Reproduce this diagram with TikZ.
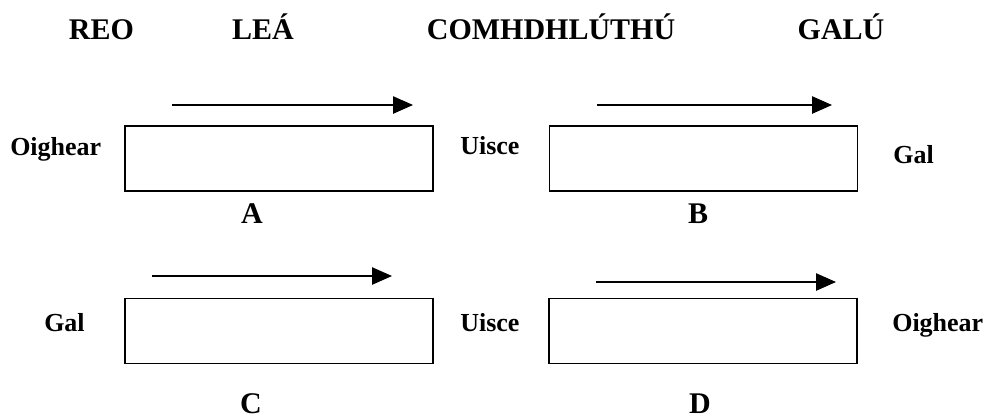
\documentclass[tikz,border=0pt]{standalone}
\usepackage{fontspec}
\setmainfont{Liberation Serif}
\usepackage{tikz}
\usetikzlibrary{arrows.meta}

\tikzset{
  tube/.style={draw, line width=1.2pt, minimum width=231pt, minimum height=48.75pt, inner sep=0pt},
  head/.style={anchor=base, inner sep=0pt, font=\bfseries\fontsize{22.5}{27}\selectfont},
  side/.style={anchor=base west, inner sep=0pt, font=\bfseries\fontsize{19.5}{23}\selectfont},
  flow/.style={line width=1.1pt, -{Triangle[length=15pt,width=13pt]}}
}

\begin{document}
\begin{tikzpicture}[x=0.75pt,y=-0.75pt]
\useasboundingbox (0,0) rectangle (984,419);
% header
\node[head] (reo) at (101.5,39) {REO};
\node[head] (lea) at (263,39) {LEÁ};
\node[head] (comh) at (551,39) {COMHDHLÚTHÚ};
\node[head] (galu) at (841,39) {GALÚ};
% upper row
\node[tube] (tA) at (279,158.5) {};
\node[tube] (tB) at (703.5,158.5) {};
\node[side] (oig1) at (10,155) {Oighear};
\node[side] (uis1) at (460,154) {Uisce};
\node[side] (gal1) at (893,163) {Gal};
\node[head] (lA) at (252,223) {A};
\node[head] (lB) at (698,223) {B};
\coordinate (a1) at (172,105); \coordinate (a2) at (413,105);
\coordinate (b1) at (597,105); \coordinate (b2) at (832,105);
\draw[flow] (a1) -- (a2);
\draw[flow] (b1) -- (b2);
% lower row
\node[tube] (tC) at (279,331) {};
\node[tube] (tD) at (703,331) {};
\node[side] (gal2) at (44,331) {Gal};
\node[side] (uis2) at (460,331) {Uisce};
\node[side] (oig2) at (892,331) {Oighear};
\node[head] (lC) at (251,413) {C};
\node[head] (lD) at (700,413) {D};
\coordinate (c1) at (152,276); \coordinate (c2) at (392,276);
\coordinate (d1) at (596,282); \coordinate (d2) at (836,282);
\draw[flow] (c1) -- (c2);
\draw[flow] (d1) -- (d2);
\end{tikzpicture}
\end{document}
